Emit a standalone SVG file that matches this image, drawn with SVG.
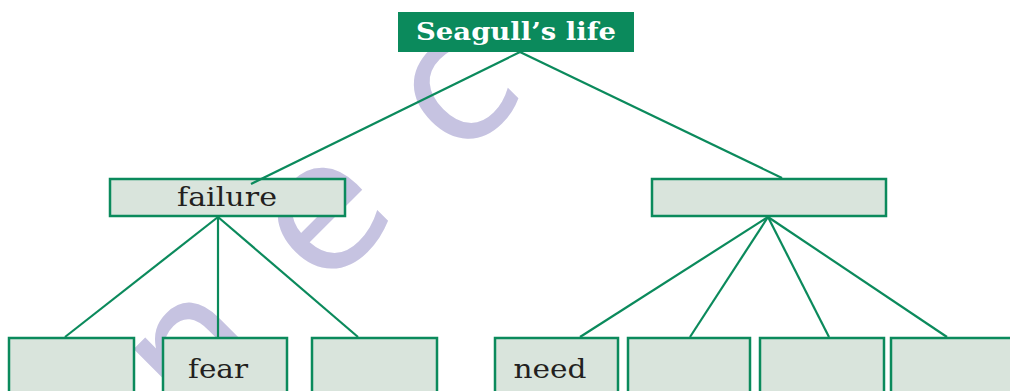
<svg xmlns="http://www.w3.org/2000/svg" width="1010" height="391" viewBox="0 0 1010 391">
<style>
.box{fill:#d9e4dc;stroke:#0b8a5c;stroke-width:2.5}
.lbl{font-family:"DejaVu Serif","Liberation Serif",serif;font-size:26px;fill:#231f20}
.wm{font-family:"DejaVu Sans","Liberation Sans",sans-serif;font-size:180px;fill:#c6c3e1;text-anchor:middle}
.conn line{stroke:#0b8a5c;stroke-width:2.2}
</style>
<rect width="1010" height="391" fill="#ffffff"/>
<g id="watermark">
<text class="wm" transform="translate(190,348) rotate(-45)" dy="0.33em">n</text>
<text class="wm" transform="translate(320,212) rotate(-45)" dy="0.33em">e</text>
<text class="wm" transform="translate(452,86) rotate(-45)" dy="0.33em">c</text>
</g>
<g id="node-root">
<rect x="398" y="12" width="236" height="40" fill="#0b8a5c"/>
<text x="516" y="40" text-anchor="middle" font-family="DejaVu Serif, Liberation Serif, serif" font-weight="bold" font-size="24" fill="#ffffff" textLength="200" lengthAdjust="spacingAndGlyphs">Seagull’s life</text>
</g>
<g id="node-failure">
<rect class="box" x="110" y="179" width="235" height="37"/>
<text class="lbl" x="227" y="206" text-anchor="middle" textLength="100" lengthAdjust="spacingAndGlyphs">failure</text>
</g>
<g id="node-right">
<rect class="box" x="652" y="179" width="234" height="37"/>
</g>
<g id="node-b1"><rect class="box" x="9" y="338" width="125" height="60"/></g>
<g id="node-fear">
<rect class="box" x="163" y="338" width="124" height="60"/>
<text class="lbl" x="218" y="378" text-anchor="middle" textLength="60" lengthAdjust="spacingAndGlyphs">fear</text>
</g>
<g id="node-b3"><rect class="box" x="312" y="338" width="125" height="60"/></g>
<g id="node-need">
<rect class="box" x="495" y="338" width="123" height="60"/>
<text class="lbl" x="550" y="378" text-anchor="middle" textLength="73" lengthAdjust="spacingAndGlyphs">need</text>
</g>
<g id="node-b5"><rect class="box" x="628" y="338" width="122" height="60"/></g>
<g id="node-b6"><rect class="box" x="760" y="338" width="124" height="60"/></g>
<g id="node-b7"><rect class="box" x="891" y="338" width="130" height="60"/></g>
<g class="conn" id="connectors">
<line x1="520" y1="52" x2="251" y2="184"/>
<line x1="520" y1="52" x2="782" y2="178"/>
<line x1="218" y1="217" x2="65" y2="337"/>
<line x1="218" y1="217" x2="218" y2="337"/>
<line x1="218" y1="217" x2="358" y2="337"/>
<line x1="768" y1="217" x2="580" y2="337"/>
<line x1="768" y1="217" x2="690" y2="337"/>
<line x1="768" y1="217" x2="829" y2="337"/>
<line x1="768" y1="217" x2="947" y2="337"/>
</g>
</svg>
